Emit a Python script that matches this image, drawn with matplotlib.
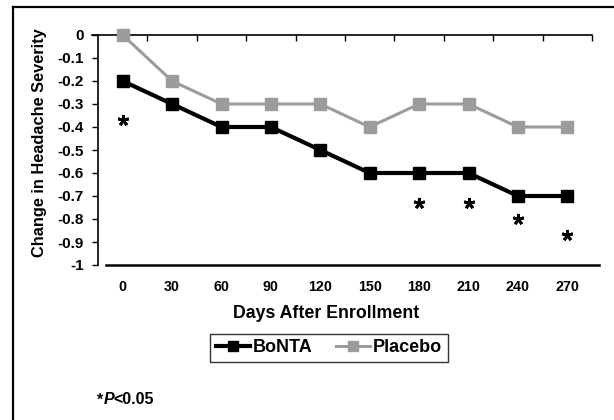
import matplotlib.pyplot as plt
from matplotlib.lines import Line2D
from matplotlib.ticker import FuncFormatter

plt.rcParams['font.family'] = ['Liberation Sans', 'DejaVu Sans']
plt.rcParams['font.weight'] = 'bold'

# dados
dias = ['0', '30', '60', '90', '120', '150', '180', '210', '240', '270']
bonta = [-0.2, -0.3, -0.4, -0.4, -0.5, -0.6, -0.6, -0.6, -0.7, -0.7]
placebo = [0, -0.2, -0.3, -0.3, -0.3, -0.4, -0.3, -0.3, -0.4, -0.4]
# asteriscos (p<0.05)
estrela_idx = [0, 6, 7, 8, 9]
estrela_y = [-0.37, -0.73, -0.73, -0.80, -0.87]

W, H = 614, 420
fig = plt.figure(figsize=(W / 100, H / 100), dpi=100)
ax = fig.add_axes([98 / W, 1 - 265 / H, 494 / W, 230 / H])

x = list(range(len(dias)))
ax.plot(x, placebo, color='#9c9c9c', lw=2.2, marker='s', ms=8.5, clip_on=False, zorder=3, label='Placebo')
ax.plot(x, bonta, color='black', lw=3, marker='s', ms=8.5, clip_on=False, zorder=4, label='BoNTA')
ax.plot(estrela_idx, estrela_y, ls='none', marker=(5, 2, 0), ms=8, mew=2, color='black')

ax.set_xlim(-0.5, len(dias) - 0.5)
ax.set_ylim(-1, 0)

# eixo y
ax.set_yticks([-i / 10 for i in range(11)])
ax.yaxis.set_major_formatter(FuncFormatter(lambda v, p: '0' if v == 0 else ('-1' if v == -1 else f'{v:.1f}')))
ax.tick_params(axis='y', direction='out', length=4, width=1, pad=6, labelsize=11)

# eixo x: rotulos embaixo, linha de categorias em y=0 (spine de cima)
ax.set_xticks(x)
ax.set_xticklabels(dias)
ax.tick_params(axis='x', length=0, pad=11, labelsize=10.3)
ax.set_xticks([i + 0.5 for i in x], minor=True)
ax.tick_params(axis='x', which='minor', top=True, bottom=False, direction='in', length=4, width=1)
ax.spines['right'].set_visible(False)
ax.spines['bottom'].set_visible(False)
ax.spines['top'].set_linewidth(1.2)
ax.spines['left'].set_linewidth(1.2)
ax.add_line(Line2D([-6 / 494, 0], [1, 1], transform=ax.transAxes, color='black', lw=1.2, clip_on=False))
ax.add_line(Line2D([8 / 494, 501 / 494], [0, 0], transform=ax.transAxes, color='black', lw=1.8, clip_on=False))

fig.text(40 / W, 1 - 143 / H, 'Change in Headache Severity', rotation=90, ha='center', va='center', fontsize=11.8)
fig.text(326 / W, 1 - 313 / H, 'Days After Enrollment', ha='center', va='center', fontsize=12.8)

h, l = ax.get_legend_handles_labels()
leg = fig.legend(h[::-1], l[::-1], loc='center', bbox_to_anchor=(329 / W, 1 - 348 / H), ncol=2,
                 fontsize=13, frameon=True, fancybox=False, edgecolor='black', handlelength=1.9,
                 handletextpad=0.15, columnspacing=1.3, borderpad=0.3, markerscale=0.8)
leg.get_frame().set_linewidth(1)

t1 = fig.text(97 / W, 1 - 400 / H, '*', ha='left', va='center', fontsize=11.5)
ann = ax.annotate('P', xy=(1, 0), xycoords=t1, ha='left', va='bottom', style='italic', fontsize=11.5)
ax.annotate('<0.05', xy=(1, 0), xycoords=ann, ha='left', va='bottom', fontsize=11.5)

# moldura
fig.add_artist(Line2D([13 / W, 13 / W], [0, 1 - 7 / H], transform=fig.transFigure, color='black', lw=1.6))
fig.add_artist(Line2D([13 / W, 1], [1 - 7 / H, 1 - 7 / H], transform=fig.transFigure, color='black', lw=1.6))

fig.savefig('out.png', dpi=100)
